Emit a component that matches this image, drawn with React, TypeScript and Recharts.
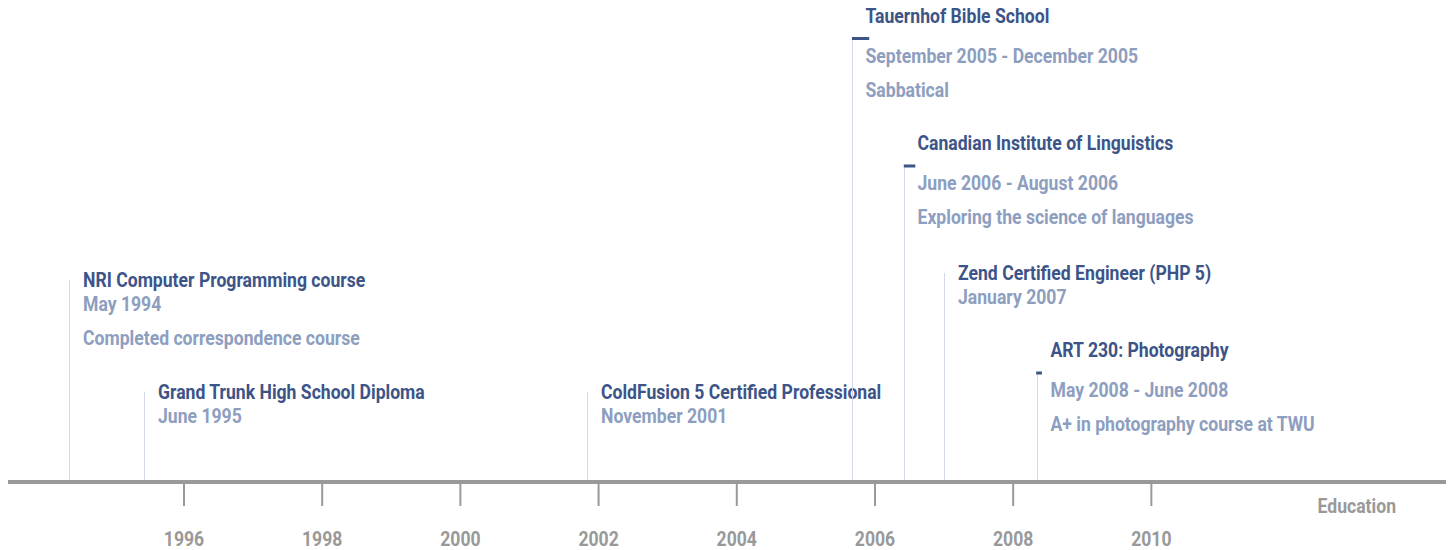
import React from "react";
import { Bar, ComposedChart, ReferenceLine, XAxis, YAxis } from "recharts";

if (typeof document !== "undefined") document.body.style.margin = "0";

const titles = [
  "NRI Computer Programming course",
  "Grand Trunk High School Diploma",
  "ColdFusion 5 Certified Professional",
  "Tauernhof Bible School",
  "Canadian Institute of Linguistics",
  "Zend Certified Engineer (PHP 5)",
  "ART 230: Photography",
];
const dateLabels = [
  "May 1994",
  "June 1995",
  "November 2001",
  "September 2005 - December 2005",
  "June 2006 - August 2006",
  "January 2007",
  "May 2008 - June 2008",
];
const descriptions = [
  "Completed correspondence course",
  "",
  "",
  "Sabbatical",
  "Exploring the science of languages",
  "",
  "A+ in photography course at TWU",
];
// [year, month]
const starts: [number, number][] = [
  [1994, 5],
  [1995, 6],
  [2001, 11],
  [2005, 9],
  [2006, 6],
  [2007, 1],
  [2008, 5],
];
const ends: ([number, number] | null)[] = [
  null,
  null,
  null,
  [2005, 12],
  [2006, 8],
  null,
  [2008, 6],
];
// stacking height of each event above the axis
const levels = [202, 90, 90, 443.5, 316, 209, 109];
const yearTicks = [1996, 1998, 2000, 2002, 2004, 2006, 2008, 2010];

const toYear = ([y, m]: [number, number]) => y + (m - 1) / 12;

const data = titles.map((title, i) => ({
  title,
  date: dateLabels[i],
  desc: descriptions[i],
  start: toYear(starts[i]),
  end: ends[i] ? toYear(ends[i] as [number, number]) : null,
  level: levels[i],
}));

// no condensed face installed, so squeeze Roboto Bold horizontally
const FONT = "Roboto, 'Noto Sans', sans-serif";
const SX = 0.88;
const DARK = "#3c5488";
const LIGHT = "#8d9ebf";
const STEM = "#d2d9e8";
const GRAY = "#999999";
const textStyle = { fontFamily: FONT, fontSize: 20, fontWeight: 700 };

function Narrow({ x, y, fill, anchor = "start", children }: any) {
  return (
    <g transform={`translate(${x},${y}) scale(${SX},1)`}>
      <text x={0} y={0} fill={fill} textAnchor={anchor} style={textStyle}>
        {children}
      </text>
    </g>
  );
}

function EventShape(props: any) {
  const { x, y, width, height, payload } = props;
  const cx = Math.round(x + width / 2) + 0.5;
  const ranged = payload.end != null;
  const tx = cx + (ranged ? 13 : 13.5);
  const rows = ranged ? [-16, 24, 58] : [7, 31, 65];
  return (
    <g>
      <line x1={cx} x2={cx} y1={y} y2={y + height} stroke={STEM} strokeWidth={1} />
      <Narrow x={tx} y={y + rows[0]} fill={DARK}>
        {payload.title}
      </Narrow>
      <Narrow x={tx} y={y + rows[1]} fill={LIGHT}>
        {payload.date}
      </Narrow>
      {payload.desc ? (
        <Narrow x={tx} y={y + rows[2]} fill={LIGHT}>
          {payload.desc}
        </Narrow>
      ) : null}
    </g>
  );
}

function YearTick(props: any) {
  const { x, payload } = props;
  return (
    <Narrow x={x} y={546} fill={GRAY} anchor="middle">
      {payload.value}
    </Narrow>
  );
}

function EducationLabel(props: any) {
  const { viewBox } = props;
  return (
    <Narrow x={viewBox.x + viewBox.width - 50} y={viewBox.y + 31} fill={GRAY} anchor="end">
      Education
    </Narrow>
  );
}

export default function App() {
  return (
    <div style={{ width: 1452, height: 550 }}>
      <ComposedChart
        width={1452}
        height={550}
        data={data}
        margin={{ top: 0, right: 6, bottom: 0, left: 8 }}
      >
        <XAxis
          dataKey="start"
          type="number"
          domain={[1993.453, 2014.264]}
          allowDataOverflow
          ticks={yearTicks}
          interval={0}
          height={68}
          axisLine={{ stroke: GRAY, strokeWidth: 4 }}
          tickLine={{ stroke: GRAY, strokeWidth: 2 }}
          tickSize={24}
          tickMargin={26}
          tick={<YearTick />}
          label={<EducationLabel />}
        />
        <YAxis hide type="number" domain={[0, 482]} allowDataOverflow />
        <Bar
          dataKey="level"
          barSize={1}
          shape={<EventShape />}
          isAnimationActive={false}
        />
        {data
          .filter((d) => d.end != null)
          .map((d) => (
            <ReferenceLine
              key={d.title}
              segment={[
                { x: d.start, y: d.level },
                { x: d.end as number, y: d.level },
              ]}
              stroke={DARK}
              strokeWidth={3}
              ifOverflow="visible"
            />
          ))}
      </ComposedChart>
    </div>
  );
}
